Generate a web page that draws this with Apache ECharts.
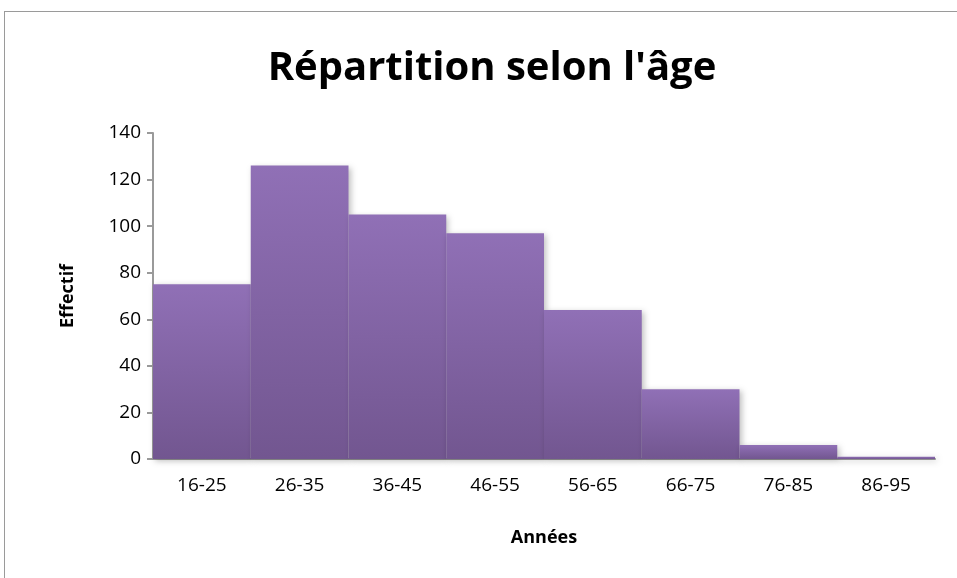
<!DOCTYPE html>
<html>
<head>
  <meta charset="utf-8">
  <script src="https://cdn.jsdelivr.net/npm/echarts@6/dist/echarts.min.js"></script>
  <style>
    body { margin: 0; background: #fff; }
    #frame {
      position: absolute; left: 4px; top: 11px; width: 960px; height: 570px;
      border-left: 1.5px solid #9a9a9a; border-top: 1.5px solid #9a9a9a;
    }
    #chart { position: absolute; left: 0; top: 0; width: 957px; height: 578px; }
  </style>
</head>
<body>
  <div id="frame"></div>
  <div id="chart"></div>
  <script>
    // tranches d'âge et effectifs
    const categories = ['16-25', '26-35', '36-45', '46-55', '56-65', '66-75', '76-85', '86-95']
    const effectifs = [75, 126, 105, 97, 64, 30, 6, 1]
    const yTicks = [0, 20, 40, 60, 80, 100, 120, 140]

    const font = 'Open Sans'
    const option = {
      animation: false,
      title: {
        text: "Répartition selon l'âge",
        left: 487, top: 44, textAlign: 'center',
        textStyle: { fontFamily: font, fontSize: 40, fontWeight: 'bold', color: '#000' }
      },
      grid: { left: 153, right: 22, top: 133, bottom: 119 },
      xAxis: {
        type: 'category',
        data: categories,
        name: 'Années',
        nameLocation: 'middle',
        nameGap: 70,
        nameTextStyle: { fontFamily: font, fontSize: 18, fontWeight: 'bold', color: '#000' },
        axisLine: { lineStyle: { color: '#9a9a9a', width: 2 } },
        axisTick: { show: false },
        axisLabel: { fontFamily: font, fontSize: 19, color: '#000', margin: 17 }
      },
      yAxis: {
        type: 'value',
        min: yTicks[0], max: yTicks[yTicks.length - 1], interval: 20,
        name: 'Effectif',
        nameLocation: 'middle',
        nameGap: 76,
        nameTextStyle: { fontFamily: font, fontSize: 18, fontWeight: 'bold', color: '#000' },
        axisLine: { show: true, lineStyle: { color: '#9a9a9a', width: 2 } },
        axisTick: { show: true, length: 6, lineStyle: { color: '#9a9a9a', width: 2 } },
        splitLine: { show: false },
        axisLabel: { fontFamily: font, fontSize: 19, color: '#000', margin: 12 }
      },
      series: [{
        type: 'bar',
        data: effectifs,
        barCategoryGap: '0%',
        itemStyle: {
          color: new echarts.graphic.LinearGradient(0, 0, 0, 1, [
            { offset: 0, color: '#9070b6' },
            { offset: 1, color: '#725690' }
          ]),
          shadowColor: 'rgba(0,0,0,0.25)',
          shadowBlur: 6,
          shadowOffsetX: 2,
          shadowOffsetY: 2
        }
      }]
    }
    drawChart('#chart', option)

    function drawChart(selector, option) {
      const chart = echarts.init(document.querySelector(selector))
      chart.setOption(option)
    }
  </script>
</body>
</html>
